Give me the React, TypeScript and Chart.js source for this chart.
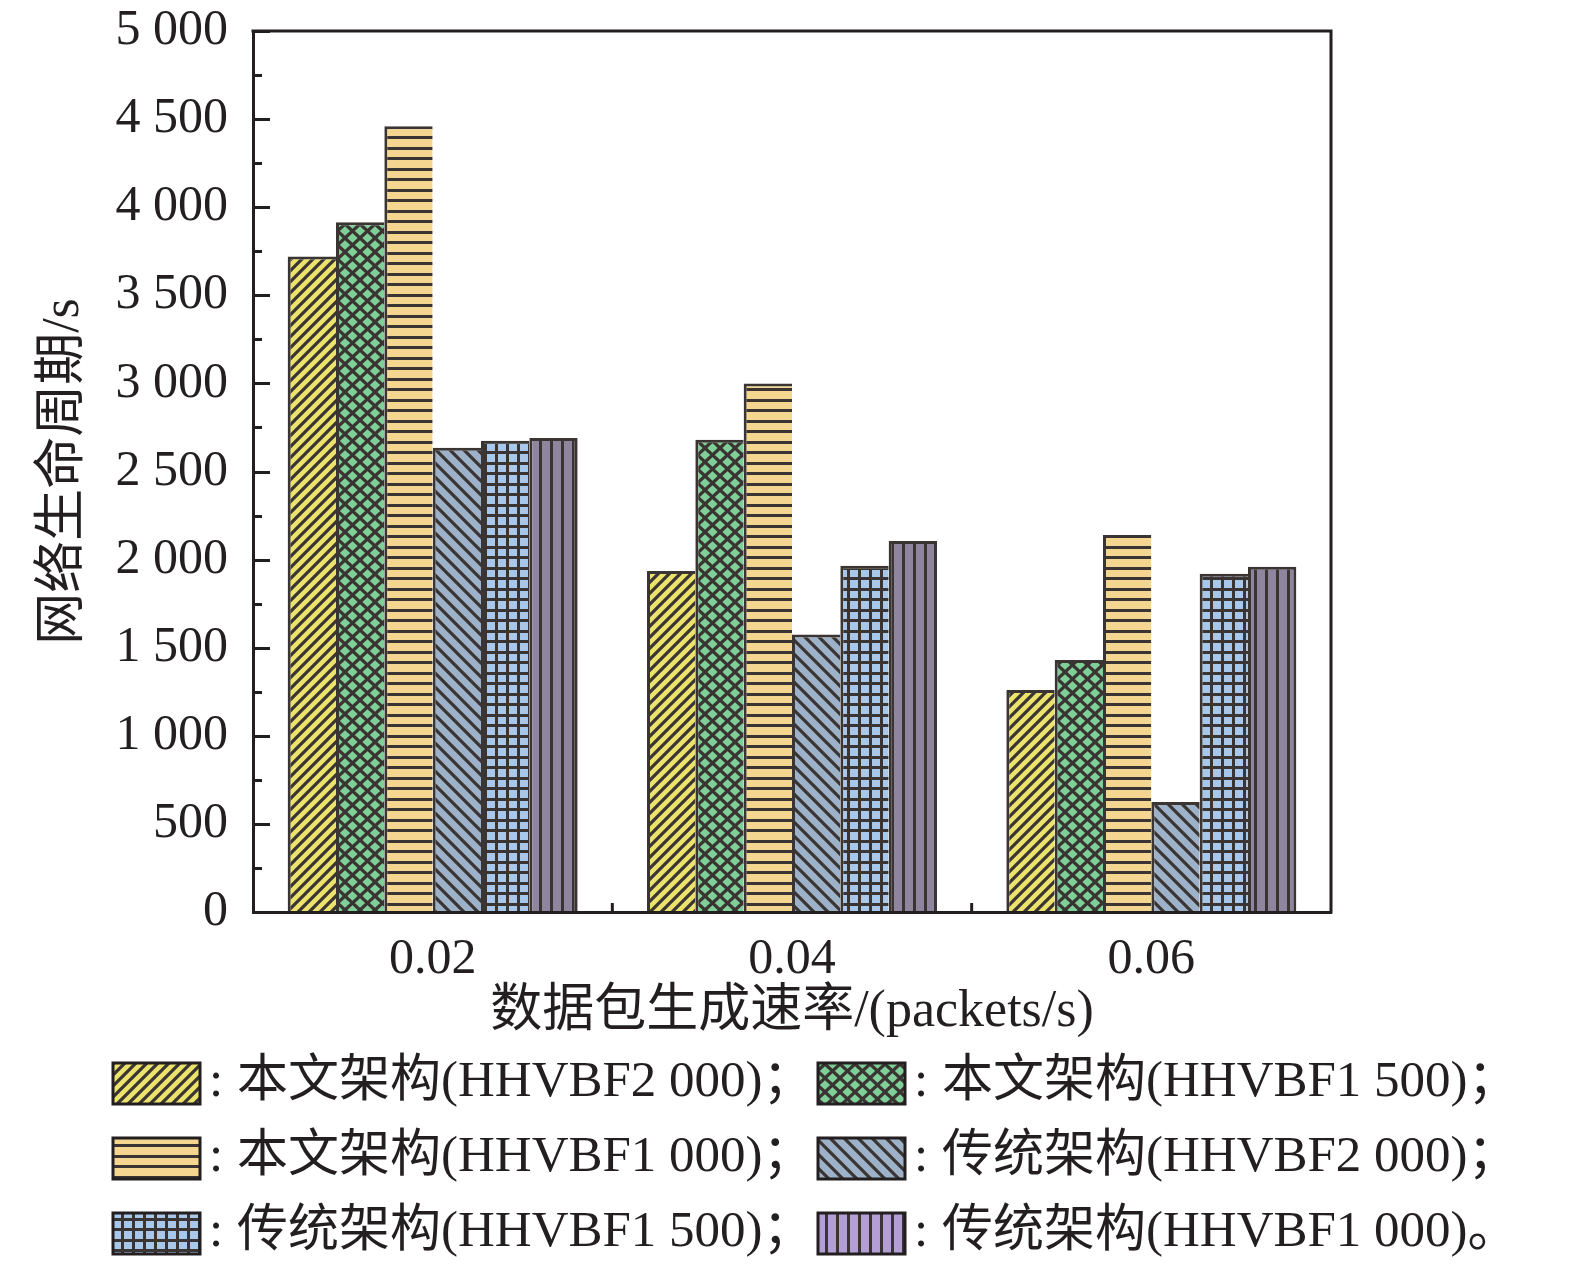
import React, { useEffect, useRef } from 'react';
import { Chart, registerables } from 'chart.js';

Chart.register(...registerables);

// ---------- data ----------
const categories = ['0.02', '0.04', '0.06'];
const seriesNames = [
  '本文架构(HHVBF2 000)',
  '本文架构(HHVBF1 500)',
  '本文架构(HHVBF1 000)',
  '传统架构(HHVBF2 000)',
  '传统架构(HHVBF1 500)',
  '传统架构(HHVBF1 000)',
];
const oursHHVBF2000 = [3720, 1935, 1260];
const oursHHVBF1500 = [3915, 2680, 1430];
const oursHHVBF1000 = [4460, 3000, 2140];
const tradHHVBF2000 = [2635, 1575, 625];
const tradHHVBF1500 = [2675, 1965, 1920];
const tradHHVBF1000 = [2690, 2105, 1960];
const legendEndings = ['；', '；', '；', '；', '；', '。'];
const xTitle = '数据包生成速率/(packets/s)';
const yTitle = '网络生命周期/s';
const yMin = 0;
const yMax = 5000;
const yStep = 500;

// ---------- styles ----------
const TEXT = '#231f20';
const AXIS = '#231f20';
const HATCH = '#3a3532';
const FONT_FAMILY = '"Liberation Serif", "Noto Sans CJK SC", serif';
const barColors = ['#ebe36c', '#7fcf98', '#f5d690', '#9db2c8', '#a7c7eb', '#8f859f'];
const legendColors = ['#ebe36c', '#7fcf98', '#f5d690', '#9db2c8', '#a7c7eb', '#b39fd6'];
const patternKinds = ['fdiag', 'cross', 'hlines', 'bdiag', 'grid', 'vlines'];

function makePattern(ctx: CanvasRenderingContext2D, kind: string, bg: string): CanvasPattern {
  const tile = document.createElement('canvas');
  let w = 12;
  let h = 12;
  if (kind === 'fdiag') { w = 11; h = 11; }
  if (kind === 'bdiag') { w = 14; h = 14; }
  if (kind === 'cross') { w = 15; h = 14; }
  if (kind === 'hlines') { w = 8; h = 21; }
  if (kind === 'grid') { w = 22; h = 21; }
  if (kind === 'vlines') { w = 11; h = 8; }
  tile.width = w;
  tile.height = h;
  const t = tile.getContext('2d')!;
  t.fillStyle = bg;
  t.fillRect(0, 0, w, h);
  t.strokeStyle = HATCH;
  t.fillStyle = HATCH;
  t.lineWidth = 3.2;
  t.lineCap = 'butt';
  if (kind === 'fdiag' || kind === 'cross') {
    t.beginPath();
    for (const o of [-w, 0, w]) {
      t.moveTo(o - w * 0.2, h * 1.2);
      t.lineTo(o + w * 1.2, -h * 0.2);
    }
    t.stroke();
  }
  if (kind === 'bdiag' || kind === 'cross') {
    t.beginPath();
    for (const o of [-w, 0, w]) {
      t.moveTo(o - w * 0.2, -h * 0.2);
      t.lineTo(o + w * 1.2, h * 1.2);
    }
    t.stroke();
  }
  if (kind === 'hlines' || kind === 'grid') {
    t.fillRect(0, 0, w, 3);
    t.fillRect(0, 10, w, 3);
  }
  if (kind === 'vlines' || kind === 'grid') {
    t.fillRect(0, 0, 3, h);
    if (kind === 'grid') t.fillRect(11, 0, 3, h);
  }
  return ctx.createPattern(tile, 'repeat')!;
}

function fmtThousands(v: number): string {
  const s = String(Math.round(v));
  return s.replace(/\B(?=(\d{3})+(?!\d))/g, ' ');
}

export default function App() {
  const ref = useRef<HTMLCanvasElement>(null);

  useEffect(() => {
    const canvas = ref.current!;
    const ctx = canvas.getContext('2d')!;
    const barPatterns = patternKinds.map((k, i) => makePattern(ctx, k, barColors[i]));
    const legendPatterns = patternKinds.map((k, i) => makePattern(ctx, k, legendColors[i]));
    const seriesValues = [oursHHVBF2000, oursHHVBF1500, oursHHVBF1000, tradHHVBF2000, tradHHVBF1500, tradHHVBF1000];
    const lastIdx = seriesNames.length - 1;

    const framePlugin = {
      id: 'frameTicks',
      afterDatasetsDraw(chart: any) {
        const c = chart.ctx;
        const { left, right, top, bottom } = chart.chartArea;
        const ys = chart.scales.y;
        const xs = chart.scales.x;
        c.save();
        c.strokeStyle = AXIS;
        c.lineWidth = 3;
        c.lineCap = 'square';
        c.beginPath();
        c.moveTo(left, top);
        c.lineTo(right, top);
        c.lineTo(right, bottom);
        c.stroke();
        c.lineCap = 'butt';
        c.beginPath();
        for (let v = yMin; v <= yMax; v += yStep / 2) {
          const py = Math.round(ys.getPixelForValue(v)) + 0.5;
          const len = v % yStep === 0 ? 17 : 9;
          c.moveTo(left, py);
          c.lineTo(left + len, py);
        }
        for (let i = 0; i < categories.length - 1; i++) {
          const px = (xs.getPixelForValue(i) + xs.getPixelForValue(i + 1)) / 2;
          c.moveTo(px, bottom);
          c.lineTo(px, bottom - 9);
        }
        c.stroke();
        c.restore();
      },
    };

    const legendPlugin = {
      id: 'customLegend',
      afterDraw(chart: any) {
        const c = chart.ctx;
        const colX = [113, 818];
        const rowY = [1083, 1158, 1233];
        c.save();
        for (let i = 0; i < seriesNames.length; i++) {
          const x = colX[i % 2];
          const yc = rowY[Math.floor(i / 2)];
          c.fillStyle = legendPatterns[i];
          c.fillRect(x, yc - 20, 87, 41);
          c.strokeStyle = AXIS;
          c.lineWidth = 3;
          c.strokeRect(x, yc - 20, 87, 41);
          c.fillStyle = TEXT;
          c.font = `51px ${FONT_FAMILY}`;
          c.textBaseline = 'middle';
          c.textAlign = 'left';
          c.fillText(':', x + 96, yc);
          c.fillText(seriesNames[i] + legendEndings[i], x + 124, yc);
        }
        c.restore();
      },
    };

    const chart = new Chart(canvas, {
      type: 'bar',
      data: {
        labels: categories,
        datasets: seriesNames.map((name, i) => ({
          label: name,
          data: seriesValues[i],
          backgroundColor: barPatterns[i],
          borderColor: HATCH,
          borderWidth: { top: 3, left: 3, right: i === lastIdx ? 3 : 0, bottom: 0 },
          borderSkipped: 'start',
          categoryPercentage: 0.807,
          barPercentage: 1,
        })),
      },
      options: {
        responsive: false,
        animation: false,
        layout: { padding: { left: 0, top: 31, right: 244, bottom: 226 } },
        plugins: {
          legend: { display: false },
          tooltip: { enabled: false },
        },
        scales: {
          x: {
            grid: { display: false, drawTicks: false },
            border: { display: true, color: AXIS, width: 3, z: 1 },
            ticks: { color: TEXT, font: { family: FONT_FAMILY, size: 50 }, padding: 18 },
            title: {
              display: true,
              text: xTitle,
              color: TEXT,
              font: { family: FONT_FAMILY, size: 52 },
              padding: { top: 0, bottom: 0 },
            },
            afterFit: (s: any) => {
              s.height = 132;
              s.paddingLeft = 0;
              s.paddingRight = 0;
            },
          },
          y: {
            min: yMin,
            max: yMax,
            grid: { display: false, drawTicks: false },
            border: { display: true, color: AXIS, width: 3, z: 1 },
            ticks: {
              stepSize: yStep,
              color: TEXT,
              font: { family: FONT_FAMILY, size: 50 },
              padding: 25,
              callback: (v: any) => fmtThousands(Number(v)),
            },
            title: {
              display: true,
              text: yTitle,
              color: TEXT,
              font: { family: FONT_FAMILY, size: 52 },
              padding: { top: 33, bottom: 0 },
            },
            afterFit: (s: any) => {
              s.width = 253;
              s.paddingTop = 0;
              s.paddingBottom = 0;
            },
          },
        },
      },
      plugins: [framePlugin, legendPlugin],
    } as any);

    return () => chart.destroy();
  }, []);

  return (
    <div style={{ position: 'absolute', left: 0, top: 0, width: 1575, height: 1270, background: '#ffffff' }}>
      <canvas ref={ref} width={1575} height={1270} style={{ display: 'block', width: 1575, height: 1270 }} />
    </div>
  );
}
